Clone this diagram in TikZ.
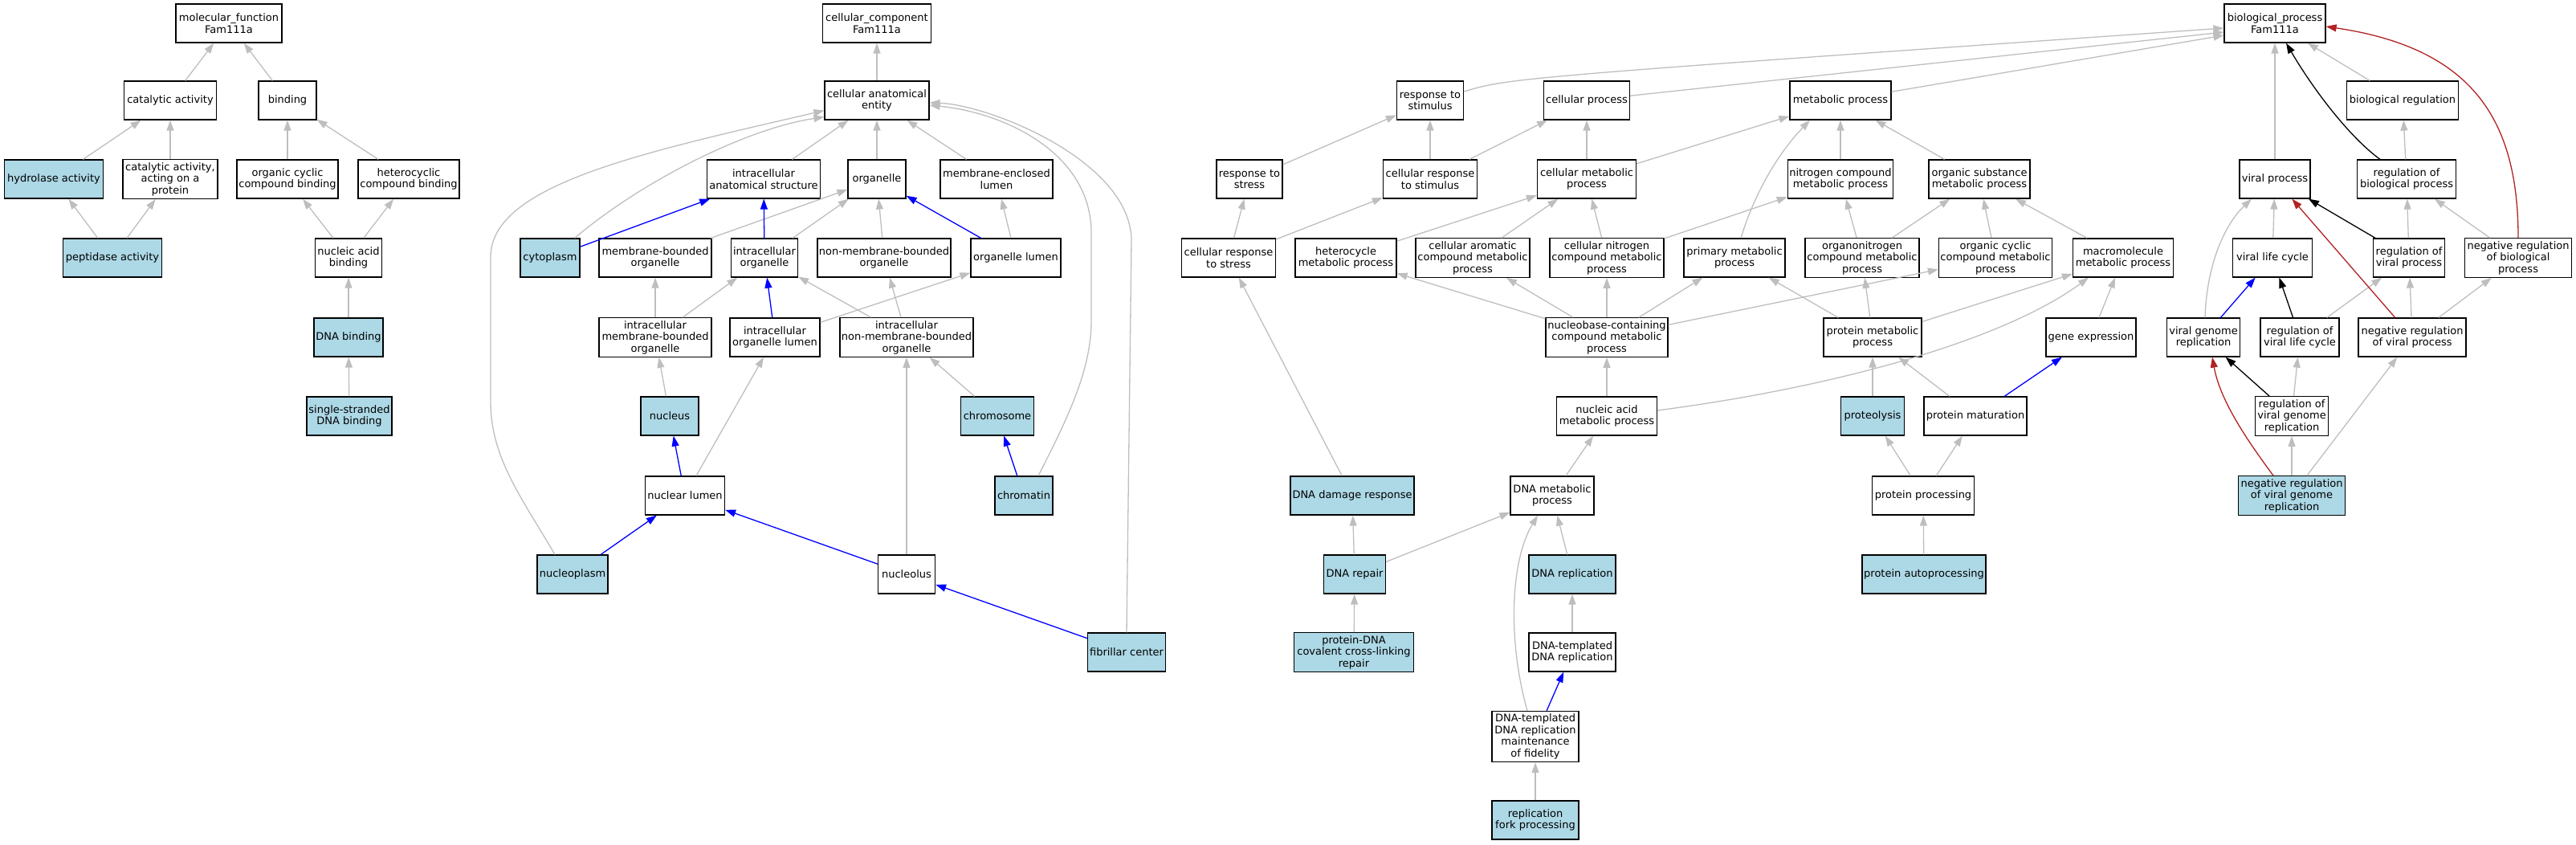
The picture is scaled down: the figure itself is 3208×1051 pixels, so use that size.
\documentclass[tikz,border=0pt]{standalone}
\usepackage{fontspec}
\newfontfamily\termfont{DejaVu Sans}
\usetikzlibrary{arrows.meta}
\definecolor{goblue}{HTML}{ADD8E6}
\definecolor{edgegray}{HTML}{BEBEBE}
\definecolor{firebrick}{HTML}{B22222}
\begin{document}
\begin{tikzpicture}[x=1bp,y=-1bp,
	term/.style={draw,line width=1.2bp,align=center,minimum height=48bp,inner xsep=2bp,inner ysep=3.5bp,
		font={\termfont\fontsize{13bp}{14.5bp}\selectfont}},
	annot/.style={term,fill=goblue},
	isa/.style={draw=edgegray,line width=1.3bp,-{Triangle[length=13bp,width=9bp]}},
	partof/.style={isa,draw=blue},
	reg/.style={isa,draw=black},
	negreg/.style={isa,draw=firebrick}]
	\useasboundingbox (0,0) rectangle (3208,1051);
	% white terms
	\foreach \nm/\x/\y/\w/\txt in {mf/285/29/132/{molecular\_function\\Fam111a}, cat/212/125/115/{catalytic activity},
		bind/358/125/72/{binding}, catprot/212/223/118/{catalytic activity,\\acting on a\\protein},
		occb/358/223/126/{organic cyclic\\compound binding}, hccb/509/223/126/{heterocyclic\\compound binding},
		nab/434/321/83/{nucleic acid\\binding},
		cc/1092/29/135/{cellular\_component\\Fam111a}, cae/1092/125/130/{cellular anatomical\\entity},
		ias/951/223/141/{intracellular\\anatomical structure}, org/1092/223/72/{organelle},
		mel/1241/223/140/{membrane-enclosed\\lumen}, mbo/816/321/140/{membrane-bounded\\organelle},
		io/952/321/83/{intracellular\\organelle}, nmbo/1101/321/166/{non-membrane-bounded\\organelle},
		ol/1265/321/112/{organelle lumen}, imbo/816/420/140/{intracellular\\membrane-bounded\\organelle},
		iol/965/420/112/{intracellular\\organelle lumen}, inmbo/1129/420/166/{intracellular\\non-membrane-bounded\\organelle},
		nlum/853/617/99/{nuclear lumen}, nucleolus/1129/715/71/{nucleolus},
		bp/2833/29/126/{biological\_process\\Fam111a}, rstim/1781/125/83/{response to\\stimulus},
		cp/1976/125/107/{cellular process}, mp/2292/125/126/{metabolic process},
		breg/2992/125/139/{biological regulation}, rstress/1556/223/82/{response to\\stress},
		crstim/1781/223/117/{cellular response\\to stimulus}, cmp/1976/223/123/{cellular metabolic\\process},
		ncmp/2292/223/131/{nitrogen compound\\metabolic process}, osmp/2465/223/126/{organic substance\\metabolic process},
		vp/2833/223/88/{viral process}, rbp/2997/223/123/{regulation of\\biological process},
		crstress/1530/321/117/{cellular response\\to stress}, hmp/1676/321/126/{heterocycle\\metabolic process},
		camp/1834/321/142/{cellular aromatic\\compound metabolic\\process},
		cncmp/2001/321/142/{cellular nitrogen\\compound metabolic\\process},
		pmp/2160/321/126/{primary metabolic\\process}, oncmp/2319/321/142/{organonitrogen\\compound metabolic\\process},
		occmp/2485/321/141/{organic cyclic\\compound metabolic\\process}, mmp/2644/321/125/{macromolecule\\metabolic process},
		vlc/2830/321/99/{viral life cycle}, rvp/3000/321/89/{regulation of\\viral process},
		nrbp/3136/321/133/{negative regulation\\of biological\\process},
		nbc/2001/420/152/{nucleobase-containing\\compound metabolic\\process}, protmp/2332/420/122/{protein metabolic\\process},
		gexp/2604/420/112/{gene expression}, vgr/2744/420/91/{viral genome\\replication},
		rvlc/2864/420/98/{regulation of\\viral life cycle}, nrvp/3004/420/134/{negative regulation\\of viral process},
		namp/2001/518/125/{nucleic acid\\metabolic process}, pmat/2460/518/128/{protein maturation},
		rvgr/2854/518/91/{regulation of\\viral genome\\replication}, dnamp/1933/617/104/{DNA metabolic\\process},
		pproc/2395/617/127/{protein processing}, dtdr/1958/812/108/{DNA-templated\\DNA replication},
		maint/1912/917/108/{DNA-templated\\DNA replication\\maintenance\\of fidelity}}{
		\node[term,minimum width=\w bp] (\nm) at (\x,\y) {\txt};
	}
	% annotated terms
	\foreach \nm/\x/\y/\w/\txt in {hydro/67/223/123/{hydrolase activity}, pept/140/321/123/{peptidase activity},
		dnab/434/420/86/{DNA binding}, ssdna/435/518/106/{single-stranded\\DNA binding},
		cyto/685/321/74/{cytoplasm}, nucl/834/518/72/{nucleus}, chrom/1242/518/91/{chromosome},
		chromatin/1275/617/72/{chromatin}, nucpl/713/715/88/{nucleoplasm}, fibc/1403/812/97/{fibrillar center},
		prot/2332/518/79/{proteolysis}, ddr/1684/617/154/{DNA damage response},
		nrvgr/2854/617/133/{negative regulation\\of viral genome\\replication}, drep/1687/715/77/{DNA repair},
		dnarep/1958/715/108/{DNA replication}, pauto/2396/715/154/{protein autoprocessing},
		pdna/1686/812/149/{protein-DNA\\covalent cross-linking\\repair}, rfp/1912/1021/108/{replication\\fork processing}}{
		\node[annot,minimum width=\w bp] (\nm) at (\x,\y) {\txt};
	}
	% is_a
	\foreach \a/\b in {cat/mf, bind/mf, hydro/cat, catprot/cat, occb/bind, hccb/bind, pept/hydro, pept/catprot,
		nab/occb, nab/hccb, dnab/nab, ssdna/dnab,
		cae/cc, ias/cae, org/cae, mel/cae, mbo/org, io/org, nmbo/org, ol/mel, imbo/mbo, imbo/io, iol/ol,
		inmbo/io, inmbo/nmbo, nucl/imbo, chrom/inmbo, nlum/iol, nucleolus/inmbo,
		rstress/rstim, crstim/rstim, crstim/cp, cmp/cp, cmp/mp, ncmp/mp, osmp/mp, vp/bp, breg/bp, rbp/breg,
		crstress/rstress, crstress/crstim, hmp/cmp, camp/cmp, cncmp/cmp, cncmp/ncmp, oncmp/ncmp, oncmp/osmp,
		occmp/osmp, mmp/osmp, vlc/vp, rvp/rbp, nrbp/rbp, nbc/hmp, nbc/camp, nbc/cncmp, nbc/pmp, nbc/occmp,
		protmp/pmp, protmp/oncmp, protmp/mmp, gexp/mmp, rvlc/rvp, nrvp/rvp, nrvp/nrbp, namp/nbc, prot/protmp,
		pmat/protmp, rvgr/rvlc, ddr/crstress, dnamp/namp, pproc/prot, pproc/pmat, nrvgr/rvgr, nrvgr/nrvp,
		drep/ddr, drep/dnamp, dnarep/dnamp, pauto/pproc, pdna/drep, dtdr/dnarep, rfp/maint}{
		\draw[isa] (\a) -- (\b);
	}
	% part_of
	\foreach \a/\b in {cyto/ias, io/ias, ol/org, iol/io, nlum/nucl, chromatin/chrom, nucpl/nlum,
		nucleolus/nlum, fibc/nucleolus, vgr/vlc, pmat/gexp, maint/dtdr}{
		\draw[partof] (\a) -- (\b);
	}
	% regulates
	\foreach \a/\b in {rvp/vp, rvlc/vlc, rvgr/vgr}{\draw[reg] (\a) -- (\b);}
	\draw[negreg] (nrvp) -- (vp);
	% bent connectors
	\draw[isa] ([xshift=-7bp]cyto.north east) .. controls (800,225) and (930,160) .. ([yshift=4bp]cae.south west);
	\draw[isa] ([xshift=-22bp]nucpl.north) .. controls (650,620) and (611,570) .. (611,500) -- (611,320)
		.. controls (611,230) and (800,190) .. ([yshift=12bp]cae.south west);
	\draw[isa] ([xshift=18bp]chromatin.north) .. controls (1330,520) and (1359,460) .. (1359,400) -- (1359,290)
		.. controls (1359,190) and (1250,140) .. ([yshift=-6bp]cae.east);
	\draw[isa] (fibc.north) -- (1409,300) .. controls (1409,200) and (1230,130) .. ([yshift=-3bp]cae.east);
	\draw[isa] ([xshift=8bp]pmp.north) .. controls (2185,240) and (2215,190) .. ([xshift=-38bp]mp.south);
	\draw[isa] ([xshift=-10bp]maint.north) .. controls (1878,800) and (1880,700) .. ([xshift=-18bp]dnamp.south);
	\draw[isa] ([yshift=7bp]namp.east) .. controls (2300,480) and (2500,420) .. ([xshift=-43bp]mmp.south);
	\draw[isa] ([xshift=2bp]vgr.north) .. controls (2748,330) and (2770,280) .. ([xshift=-29bp]vp.south);
	\draw[isa] ([yshift=11bp]rstim.east) .. controls (1880,97) .. ([yshift=-6bp]bp.west);
	\draw[isa] (cp) -- ([yshift=-11bp]bp.west);
	\draw[isa] (mp) -- ([yshift=-15bp]bp.west);
	\draw[reg] ([xshift=-33bp]rbp.north) .. controls (2925,170) and (2880,110) .. ([xshift=14bp]bp.south);
	\draw[negreg] ([xshift=-23bp]nrvgr.north) .. controls (2800,550) and (2765,500) .. ([xshift=11bp]vgr.south);
	\draw[negreg] (nrbp.north) .. controls (3136,150) and (3080,60) .. ([yshift=-4bp]bp.east);
\end{tikzpicture}
\end{document}
